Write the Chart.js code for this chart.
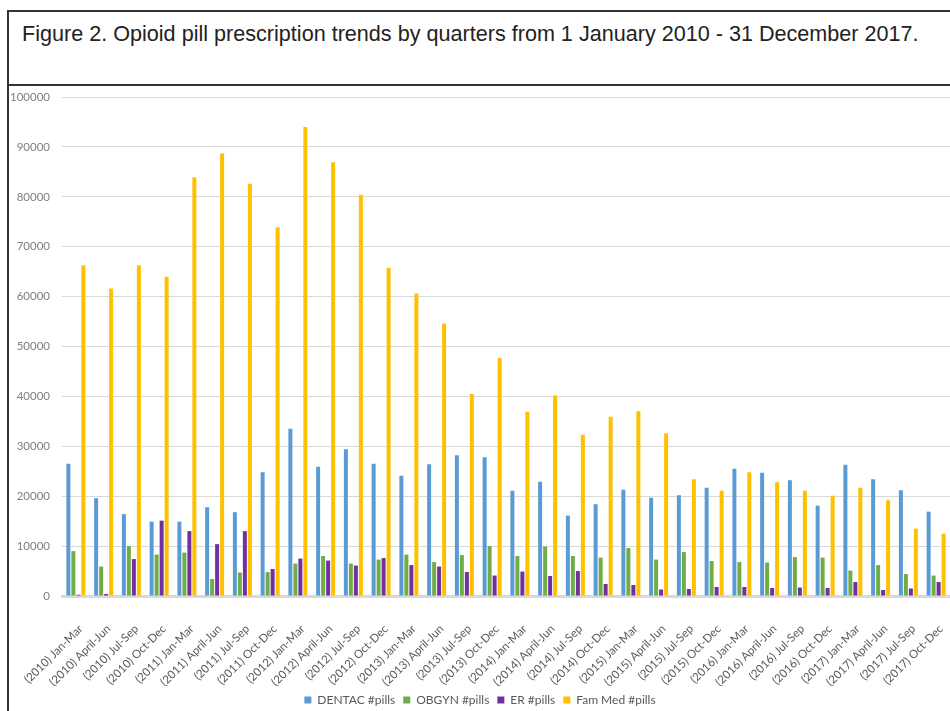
<!DOCTYPE html>
<html>
<head>
<meta charset="utf-8">
<script src="https://cdn.jsdelivr.net/npm/chart.js@4"></script>
<style>
  body { margin: 0; width: 950px; height: 711px; overflow: hidden; background: #fff; position: relative; }
  #frame { position: absolute; left: 7px; top: 10px; width: 943px; height: 701px;
           border-left: 2px solid #333; border-top: 2px solid #333; box-sizing: border-box; }
  #rule { position: absolute; left: 7px; top: 84px; width: 943px; height: 2px; background: #333; }
  #title { position: absolute; left: 22px; top: 21px; font-family: "Liberation Sans", Arial, sans-serif;
           font-size: 21.6px; color: #222; white-space: nowrap; }
  #wrap { position: absolute; left: 10px; top: 87px; width: 940px; height: 629px; }
</style>
</head>
<body>
<div id="frame"></div>
<div id="rule"></div>
<div id="title">Figure 2. Opioid pill prescription trends by quarters from 1 January 2010 - 31 December 2017.</div>
<div id="wrap"><canvas id="pillsChart"></canvas></div>
<script>
// quarterly pill counts per department
const quarters = [
  "(2010) Jan-Mar", "(2010) April-Jun", "(2010) Jul-Sep", "(2010) Oct-Dec",
  "(2011) Jan-Mar", "(2011) April-Jun", "(2011) Jul-Sep", "(2011) Oct-Dec",
  "(2012) Jan-Mar", "(2012) April-Jun", "(2012) Jul-Sep", "(2012) Oct-Dec",
  "(2013) Jan-Mar", "(2013) April-Jun", "(2013) Jul-Sep", "(2013) Oct-Dec",
  "(2014) Jan-Mar", "(2014) April-Jun", "(2014) Jul-Sep", "(2014) Oct-Dec",
  "(2015) Jan-Mar", "(2015) April-Jun", "(2015) Jul-Sep", "(2015) Oct-Dec",
  "(2016) Jan-Mar", "(2016) April-Jun", "(2016) Jul-Sep", "(2016) Oct-Dec",
  "(2017) Jan-Mar", "(2017) April-Jun", "(2017) Jul-Sep", "(2017) Oct-Dec",
];

const dentac = [26500, 19600, 16400, 14900, 14900, 17800, 16800, 24800,
  33500, 25900, 29400, 26500, 24100, 26400, 28200, 27800,
  21100, 22900, 16100, 18400, 21300, 19700, 20200, 21700,
  25500, 24700, 23200, 18100, 26300, 23400, 21200, 16900];

const obgyn = [9000, 5900, 10000, 8300, 8700, 3400, 4700, 4800,
  6500, 8000, 6500, 7300, 8300, 6800, 8200, 10000,
  8000, 9900, 8000, 7700, 9600, 7300, 8800, 7000,
  6800, 6700, 7800, 7700, 5100, 6200, 4400, 4100];

const er = [250, 400, 7400, 15100, 13000, 10400, 13000, 5400,
  7500, 7100, 6100, 7600, 6200, 5900, 4800, 4100,
  4900, 4000, 5000, 2400, 2200, 1300, 1400, 1800,
  1800, 1600, 1700, 1600, 2800, 1200, 1500, 2800];

const famMed = [66300, 61600, 66300, 64000, 83900, 88700, 82600, 73900,
  94000, 86900, 80400, 65800, 60600, 54600, 40500, 47700,
  36900, 40200, 32300, 35900, 37000, 32600, 23400, 21100,
  24800, 22800, 21100, 20100, 21700, 19200, 13500, 12500];

const yTicks = [0, 10000, 20000, 30000, 40000, 50000, 60000, 70000, 80000, 90000, 100000];

const font = { family: "Lato, sans-serif", size: 11.5 };
const legendFont = { family: "Lato, sans-serif", size: 12 };
const quarterFont = { family: "Lato, sans-serif", size: 11.5 };

function series(label, data, color) {
  return {
    label: label,
    data: data,
    backgroundColor: color,
    borderWidth: 0,
    barPercentage: 0.8,
    categoryPercentage: 0.72,
  };
}

const ctx = document.getElementById("pillsChart").getContext("2d");
const pillsChart = new Chart(ctx, {
  type: "bar",
  data: {
    labels: quarters,
    datasets: [
      series("DENTAC #pills", dentac, "#5B9BD5"),
      series("OBGYN #pills", obgyn, "#70AD47"),
      series("ER #pills", er, "#7030A0"),
      series("Fam Med #pills", famMed, "#FFC000"),
    ],
  },
  options: {
    responsive: true,
    maintainAspectRatio: false,
    animation: false,
    layout: { padding: { top: 10, left: 0, right: 0, bottom: 0 } },
    scales: {
      y: {
        min: yTicks[0],
        max: yTicks[yTicks.length - 1],
        afterBuildTicks: function (scale) {
          scale.ticks = yTicks.map(function (v) { return { value: v }; });
        },
        afterFit: function (scale) {
          // fixed gutter for the tick labels, no extra space above/below
          scale.width = 52;
          scale.paddingTop = 0;
          scale.paddingBottom = 0;
        },
        ticks: {
          color: "#7f7f7f",
          font: font,
          padding: 12,
          callback: function (value) { return value; },
        },
        grid: { color: "#d9d9d9", drawTicks: false },
        border: { display: false },
      },
      x: {
        afterFit: function (scale) {
          scale.height = 90;
          scale.paddingLeft = 0;
          scale.paddingRight = 0;
        },
        ticks: {
          color: "#595959",
          font: quarterFont,
          minRotation: 45,
          maxRotation: 45,
          autoSkip: false,
          padding: 18,
          labelOffset: 5,
        },
        grid: { display: false },
        border: { color: "#d9d9d9", width: 3 },
      },
    },
    plugins: {
      legend: {
        position: "bottom",
        labels: {
          color: "#595959",
          font: legendFont,
          boxWidth: 7,
          boxHeight: 7,
          padding: 8,
        },
      },
      tooltip: { enabled: false },
    },
  },
});
</script>
</body>
</html>
